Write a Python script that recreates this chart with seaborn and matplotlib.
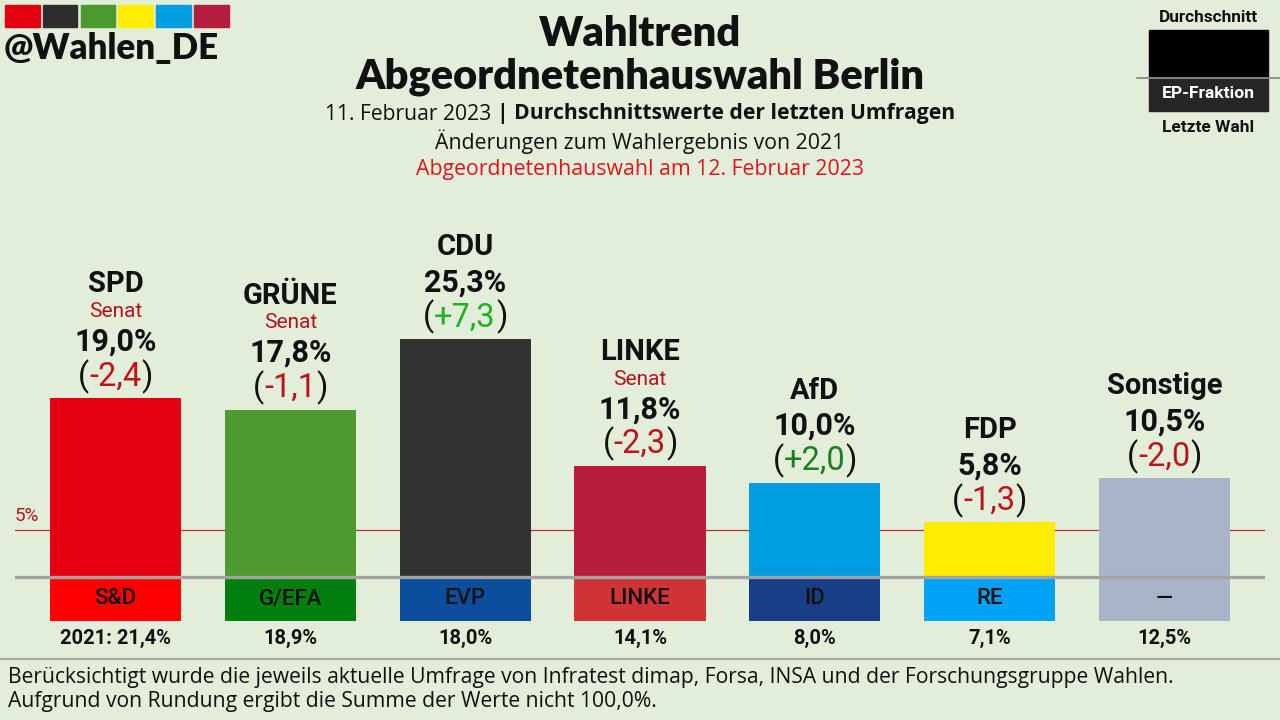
import matplotlib
matplotlib.use("Agg")
import matplotlib.pyplot as plt
import seaborn as sns
import pandas as pd
from matplotlib.patches import Rectangle

# ---------------- data ----------------
parties = ["SPD", "GRÜNE", "CDU", "LINKE", "AfD", "FDP", "Sonstige"]
values = [19.0, 17.8, 25.3, 11.8, 10.0, 5.8, 10.5]
changes = [-2.4, -1.1, 7.3, -2.3, 2.0, -1.3, -2.0]
in_senat = [True, True, False, True, False, False, False]
ep_groups = ["S&D", "G/EFA", "EVP", "LINKE", "ID", "RE", "—"]
prev_result = [21.4, 18.9, 18.0, 14.1, 8.0, 7.1, 12.5]
threshold = 5.0

bar_colors = ["#E3000F", "#4E9A2F", "#323232", "#B61C3E", "#009EE0", "#FFED00", "#AAB4C8"]
ep_colors = ["#FF0000", "#007F0E", "#0C4E9E", "#D03336", "#183F85", "#00A2F5", "#AAB4C8"]
logo_colors = ["#E3000F", "#2D2D2D", "#4A9A2E", "#FFED00", "#009EE0", "#B61C3E"]

BG = "#E2EEDA"
FONT = "Roboto"
SANS = "Open Sans"

df = pd.DataFrame({"party": parties, "value": values})

sns.set_theme(style="white")
plt.rcParams["font.family"] = [FONT, "DejaVu Sans"]

fig = plt.figure(figsize=(12.8, 7.2), dpi=100, facecolor=BG)

# main axes: x 15..1265 px, y from 720 px (bottom) to 180 px (top)
PX = 9.4  # px per percent
ax = fig.add_axes([15 / 1280, 0, 1250 / 1280, 540 / 720])
ax.set_facecolor("none")

# 5% line (behind bars)
ax.axhline(threshold, color="#B8332F", lw=0.9, zorder=0)

sns.barplot(data=df, x="party", y="value", hue="party", palette=bar_colors,
            width=0.75, legend=False, ax=ax, saturation=1, zorder=2,
            edgecolor="none", linewidth=0)
ax.set_xlim(-0.575, 6.575)
ax.set_ylim(-(720 - 577) / PX, (577 - 180) / PX)
ax.axis("off")

# EP group boxes below baseline
ep_h = 44 / PX
ax.bar(range(len(parties)), [-ep_h] * len(parties), width=0.75, color=ep_colors,
       zorder=2, edgecolor="none", linewidth=0)
ax.axhline(0, color="#A3A3A3", lw=2.4, zorder=3)

# overlay in pixel coords (top-left origin)
ov = fig.add_axes([0, 0, 1, 1])
ov.set_xlim(0, 1280)
ov.set_ylim(720, 0)
ov.axis("off")
ov.set_facecolor("none")

fig.canvas.draw()
renderer = fig.canvas.get_renderer()


def to_px(x, y):
    dx, dy = ax.transData.transform((x, y))
    return dx, 720 - dy


def pieces(xc, y, parts, size, family=None):
    fam = family or [FONT, "DejaVu Sans"]
    txts = []
    for s, c, w in parts:
        t = ov.text(0, y, s, color=c, fontsize=size, fontweight=w,
                    family=fam, ha="left", va="center")
        txts.append(t)
    widths = [t.get_window_extent(renderer).width for t in txts]
    x = xc - sum(widths) / 2
    for t, w in zip(txts, widths):
        t.set_x(x)
        x += w


def fmt(v):
    return f"{v:.1f}".replace(".", ",")


for i, p in enumerate(parties):
    xc, ytop = to_px(i, values[i])
    ch = changes[i]
    if ch < 0:
        ccol = "#C0121B"
        cs = "-" + fmt(abs(ch))
    else:
        ccol = "#1DB31D" if ch > 5 else "#1E7D1E"
        cs = "+" + fmt(ch)
    pieces(xc, ytop - 22, [("(", "#111111", "normal"), (cs, ccol, "normal"),
                           (")", "#111111", "normal")], 23.5)
    ov.text(xc, ytop - 57, fmt(values[i]) + "%", ha="center", va="center",
            fontsize=22, fontweight="bold", color="#111111")
    if in_senat[i]:
        ov.text(xc, ytop - 87, "Senat", ha="center", va="center",
                fontsize=15, color="#B3141C")
        ov.text(xc, ytop - 114, p, ha="center", va="center",
                fontsize=21, fontweight="bold", color="#111111")
    else:
        ov.text(xc, ytop - 92, p, ha="center", va="center",
                fontsize=21, fontweight="bold", color="#111111")
    # EP label
    _, yb = to_px(i, -ep_h / 2)
    ov.text(xc, yb, ep_groups[i], ha="center", va="center", fontsize=16,
            fontweight="medium", color="#111111")
    # previous result
    lab = fmt(prev_result[i]) + "%"
    if i == 0:
        lab = "2021: " + lab
    ov.text(xc, 638, lab, ha="center", va="center", fontsize=14.5,
            fontweight="bold", color="#111111")

# 5% label
_, y5 = to_px(0, threshold)
ov.text(15, y5 - 14, "5%", ha="left", va="center", fontsize=13.5, color="#B3141C")

# ---- logo ----
for k, c in enumerate(logo_colors):
    ov.add_patch(Rectangle((5 + k * 37.8, 5), 34.5, 22, color=c))
ov.text(4, 48, "@Wahlen_DE", ha="left", va="center", fontsize=25,
        fontweight="heavy", family=["Lato", "DejaVu Sans"], color="#111111")

# ---- title ----
ov.text(640, 34, "Wahltrend", ha="center", va="center", fontsize=30,
        fontweight="heavy", family=["Lato", "DejaVu Sans"], color="#111111")
ov.text(640, 77, "Abgeordnetenhauswahl Berlin", ha="center", va="center", fontsize=30,
        fontweight="heavy", family=["Lato", "DejaVu Sans"], color="#111111")
pieces(640, 114, [("11. Februar 2023 ", "#111111", "normal"),
                  ("| Durchschnittswerte der letzten Umfragen", "#111111", "bold")],
       15.2, family=[SANS])
ov.text(640, 142, "Änderungen zum Wahlergebnis von 2021", ha="center", va="center",
        fontsize=15.3, family=[SANS], color="#111111")
ov.text(640, 170, "Abgeordnetenhauswahl am 12. Februar 2023", ha="center", va="center",
        fontsize=15.3, family=[SANS], color="#E0121B")

# ---- legend top right ----
ov.text(1208, 17, "Durchschnitt", ha="center", va="center", fontsize=12.4,
        fontweight="bold", color="#111111")
ov.add_patch(Rectangle((1149, 30), 119, 48, color="#000000"))
ov.add_patch(Rectangle((1149, 78), 119, 33, color="#262626"))
ov.plot([1137, 1280], [78, 78], color="#8A8A8A", lw=1.3)
ov.text(1208, 94, "EP-Fraktion", ha="center", va="center", fontsize=12.6,
        fontweight="bold", color="white")
ov.text(1208, 128, "Letzte Wahl", ha="center", va="center", fontsize=12.5,
        fontweight="bold", color="#111111")

# ---- footer ----
ov.plot([0, 1280], [659, 659], color="#A8A8A8", lw=1.5)
ov.text(8, 677, "Berücksichtigt wurde die jeweils aktuelle Umfrage von Infratest dimap, Forsa, INSA und der Forschungsgruppe Wahlen.",
        ha="left", va="center", fontsize=15.2, family=[SANS], color="#111111")
ov.text(8, 702, "Aufgrund von Rundung ergibt die Summe der Werte nicht 100,0%.",
        ha="left", va="center", fontsize=15.2, family=[SANS], color="#111111")

fig.savefig("out.png", dpi=100, facecolor=BG)
